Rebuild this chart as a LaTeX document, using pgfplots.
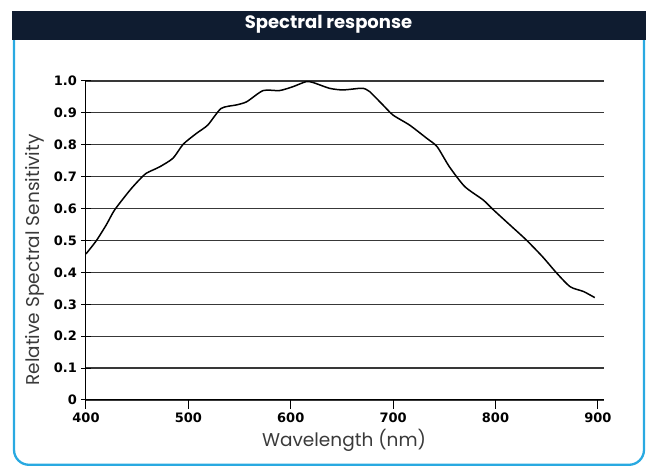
\documentclass[border=0pt]{standalone}
\usepackage{pgfplots}
\pgfplotsset{compat=1.18}
\usepackage{fontspec}
\setmainfont{Poppins}
\newfontfamily\tickfont{DejaVu Sans}
\definecolor{navy}{HTML}{0F1C30}
\definecolor{frameblue}{HTML}{29A9E1}
\definecolor{labgray}{HTML}{3A3A3A}
\begin{document}
\begin{tikzpicture}
\useasboundingbox (0pt,0pt) rectangle (646pt,466pt);
% frame
\draw[frameblue, line width=2.3pt, rounded corners=15pt] (14pt,428pt) -- (14pt,1.2pt) -- (644pt,1.2pt) -- (644pt,428pt);
\fill[navy] (12pt,426pt) rectangle (646pt,455pt);
\node[text=white, font=\fontsize{18}{20}\selectfont\bfseries] at (328.5pt,442pt) {Spectral response};
\begin{axis}[
  scale only axis,
  width=518pt, height=319pt,
  anchor=south west, at={(86pt,66pt)},
  xmin=400, xmax=906, ymin=0, ymax=1.0,
  axis x line=bottom, axis y line=left,
  axis line style={-, line width=1pt, black},
  xtick={400,500,600,700,800,900},
  ytick={0,0.1,0.2,0.3,0.4,0.5,0.6,0.7,0.8,0.9,1.0},
  yticklabels={0,0.1,0.2,0.3,0.4,0.5,0.6,0.7,0.8,0.9,1.0},
  xticklabels={400,500,600,700,800,900},
  major tick length=9pt,
  xtick align=outside,
  ytick align=center,
  tick style={line width=1pt, black},
  ymajorgrids,
  grid style={line width=1.2pt, black!78},
  tick label style={font=\tickfont\bfseries\fontsize{13}{15}\selectfont, text=black},
  /pgf/number format/assume math mode=true,
  xticklabel style={yshift=0pt},
  yticklabel style={xshift=-1pt},
  clip=false,
]
\addplot[black, line width=1.5pt, smooth, tension=0.4] coordinates {
(400,0.458)
(410,0.499)
(420,0.55)
(428,0.596)
(443,0.658)
(452,0.690)
(459,0.711)
(472,0.731)
(485,0.758)
(495,0.802)
(508,0.836)
(519,0.862)
(532,0.914)
(547,0.925)
(557,0.935)
(573,0.970)
(589,0.970)
(602,0.982)
(615,0.998)
(622,0.995)
(638,0.977)
(651,0.972)
(667,0.977)
(671,0.977)
(677,0.967)
(690,0.925)
(700,0.893)
(716,0.862)
(733,0.820)
(743,0.794)
(755,0.731)
(770,0.669)
(788,0.627)
(798,0.596)
(814,0.549)
(830,0.502)
(846,0.449)
(860,0.397)
(873,0.355)
(886,0.340)
(897,0.321)
};
\end{axis}
\node[text=labgray, font=\fontsize{18.5}{20}\selectfont] at (344pt,26pt) {Wavelength (nm)};
\node[text=labgray, font=\fontsize{18.5}{20}\selectfont, rotate=90] at (35pt,206pt) {Relative Spectral Sensitivity};
\end{tikzpicture}
\end{document}
